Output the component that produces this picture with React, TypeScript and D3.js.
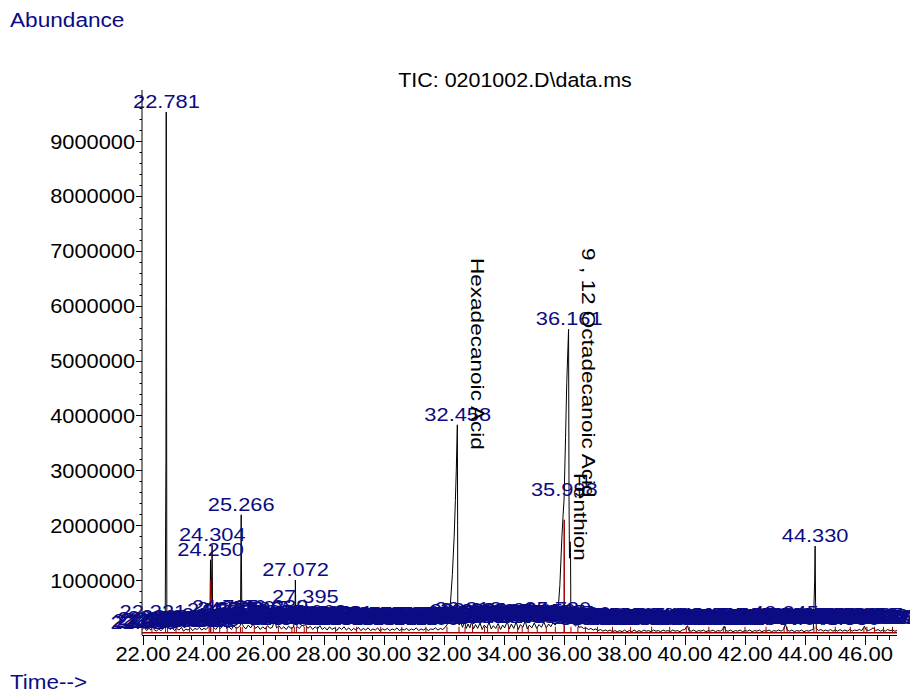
import * as d3 from 'd3'
import React, { useEffect, useRef } from 'react'

const width = 910
const height = 692
const FONT = "'Liberation Sans', Arial, Helvetica, sans-serif"
const BLUE = '#0b0b84'
const RED = '#a00000'

// retention time (min), abundance (millions) -- TIC trace
const trace: [number, number][] = [
  [21.97, 0.1], [22.05, 0.14], [22.12, 0.08], [22.2, 0.12], [22.27, 0.09], [22.33, 0.27], [22.37, 0.1], [22.45, 0.07],
  [22.52, 0.11], [22.6, 0.08], [22.68, 0.12], [22.74, 0.15], [22.765, 3.2], [22.775, 9.53], [22.785, 6.0], [22.795, 0.4],
  [22.83, 0.16], [22.9, 0.1], [22.98, 0.13], [23.05, 0.08], [23.12, 0.12], [23.2, 0.09], [23.28, 0.14], [23.35, 0.07],
  [23.43, 0.11], [23.5, 0.09], [23.58, 0.13], [23.65, 0.08], [23.73, 0.12], [23.8, 0.1], [23.88, 0.14], [23.95, 0.09],
  [24.03, 0.12], [24.1, 0.1], [24.18, 0.15], [24.23, 0.25], [24.245, 1.37], [24.26, 0.6], [24.28, 0.9], [24.3, 1.64],
  [24.315, 0.4], [24.35, 0.14], [24.42, 0.1], [24.5, 0.16], [24.58, 0.12], [24.66, 0.18], [24.73, 0.3], [24.78, 0.12],
  [24.86, 0.15], [24.94, 0.1], [25.02, 0.17], [25.1, 0.12], [25.18, 0.14], [25.24, 0.18], [25.255, 1.4], [25.265, 2.19],
  [25.275, 1.2], [25.29, 0.2], [25.35, 0.15], [25.42, 0.11], [25.5, 0.18], [25.58, 0.13], [25.66, 0.2], [25.74, 0.12],
  [25.82, 0.16], [25.9, 0.1], [25.98, 0.15], [26.06, 0.11], [26.14, 0.17], [26.22, 0.12], [26.3, 0.14], [26.38, 0.28],
  [26.44, 0.13], [26.52, 0.17], [26.6, 0.11], [26.68, 0.15], [26.76, 0.1], [26.84, 0.16], [26.92, 0.12], [27.0, 0.14],
  [27.05, 0.3], [27.065, 1.0], [27.08, 0.35], [27.12, 0.15], [27.2, 0.12], [27.28, 0.18], [27.35, 0.16], [27.385, 0.51],
  [27.41, 0.18], [27.48, 0.12], [27.56, 0.16], [27.64, 0.1], [27.72, 0.15], [27.8, 0.11], [27.88, 0.17], [27.96, 0.1],
  [28.04, 0.14], [28.12, 0.09], [28.2, 0.15], [28.28, 0.1], [28.36, 0.13], [28.44, 0.08], [28.52, 0.14], [28.6, 0.1],
  [28.68, 0.15], [28.76, 0.09], [28.84, 0.13], [28.92, 0.08], [29.0, 0.12], [29.08, 0.09], [29.16, 0.14], [29.24, 0.08],
  [29.32, 0.12], [29.4, 0.09], [29.48, 0.13], [29.56, 0.08], [29.64, 0.11], [29.72, 0.09], [29.8, 0.13], [29.88, 0.07],
  [29.96, 0.11], [30.04, 0.09], [30.12, 0.12], [30.2, 0.08], [30.28, 0.11], [30.36, 0.09], [30.44, 0.13], [30.52, 0.08],
  [30.6, 0.11], [30.68, 0.09], [30.76, 0.12], [30.84, 0.08], [30.92, 0.11], [31.0, 0.09], [31.08, 0.13], [31.16, 0.08],
  [31.24, 0.11], [31.32, 0.09], [31.4, 0.12], [31.48, 0.08], [31.56, 0.11], [31.64, 0.1], [31.72, 0.13], [31.8, 0.09],
  [31.88, 0.12], [31.96, 0.1], [32.04, 0.14], [32.12, 0.2], [32.2, 0.45], [32.28, 1.1], [32.34, 1.8], [32.38, 2.45],
  [32.41, 3.0], [32.445, 3.83], [32.455, 2.0], [32.46, 0.5], [32.5, 0.18], [32.56, 0.22], [32.62, 0.14], [32.68, 0.25],
  [32.74, 0.12], [32.8, 0.2], [32.86, 0.13], [32.92, 0.24], [32.98, 0.11], [33.05, 0.19], [33.12, 0.12], [33.2, 0.22],
  [33.27, 0.1], [33.34, 0.18], [33.42, 0.13], [33.5, 0.23], [33.57, 0.11], [33.64, 0.17], [33.72, 0.12], [33.8, 0.21],
  [33.88, 0.1], [33.95, 0.18], [34.02, 0.13], [34.1, 0.25], [34.17, 0.11], [34.24, 0.2], [34.32, 0.12], [34.4, 0.24],
  [34.47, 0.1], [34.54, 0.19], [34.62, 0.14], [34.7, 0.26], [34.77, 0.11], [34.84, 0.18], [34.92, 0.13], [35.0, 0.22],
  [35.08, 0.12], [35.16, 0.19], [35.24, 0.14], [35.32, 0.24], [35.4, 0.13], [35.48, 0.2], [35.55, 0.15], [35.62, 0.22],
  [35.7, 0.18], [35.78, 0.35], [35.85, 0.9], [35.92, 1.8], [35.96, 2.2], [35.99, 2.46], [36.04, 3.6], [36.08, 4.6],
  [36.14, 5.57], [36.155, 2.5], [36.17, 1.4], [36.19, 1.7], [36.205, 1.5], [36.215, 0.5], [36.24, 0.25], [36.3, 0.2],
  [36.38, 0.16], [36.43, 0.22], [36.48, 0.14], [36.56, 0.15], [36.64, 0.12], [36.72, 0.13], [36.8, 0.1], [36.88, 0.12],
  [36.96, 0.09], [37.04, 0.11], [37.12, 0.08], [37.2, 0.1], [37.28, 0.07], [37.36, 0.09], [37.44, 0.07], [37.52, 0.09],
  [37.6, 0.06], [37.68, 0.08], [37.76, 0.06], [37.84, 0.08], [37.92, 0.06], [38.0, 0.09], [38.08, 0.06], [38.16, 0.08],
  [38.24, 0.06], [38.32, 0.09], [38.4, 0.06], [38.48, 0.08], [38.56, 0.06], [38.64, 0.09], [38.72, 0.07], [38.8, 0.08],
  [38.88, 0.06], [38.96, 0.09], [39.04, 0.07], [39.12, 0.08], [39.2, 0.06], [39.28, 0.09], [39.36, 0.07], [39.44, 0.08],
  [39.52, 0.06], [39.6, 0.09], [39.68, 0.07], [39.76, 0.08], [39.84, 0.06], [39.92, 0.09], [40.0, 0.1], [40.09, 0.17],
  [40.14, 0.08], [40.22, 0.07], [40.3, 0.09], [40.38, 0.06], [40.46, 0.08], [40.54, 0.07], [40.62, 0.09], [40.7, 0.06],
  [40.78, 0.08], [40.86, 0.07], [40.94, 0.09], [41.02, 0.06], [41.1, 0.08], [41.18, 0.07], [41.26, 0.1], [41.31, 0.16],
  [41.36, 0.08], [41.44, 0.07], [41.52, 0.09], [41.6, 0.06], [41.68, 0.08], [41.76, 0.07], [41.84, 0.09], [41.92, 0.06],
  [42.0, 0.08], [42.08, 0.07], [42.16, 0.09], [42.24, 0.06], [42.32, 0.08], [42.4, 0.07], [42.48, 0.09], [42.56, 0.06],
  [42.64, 0.08], [42.72, 0.07], [42.8, 0.09], [42.88, 0.06], [42.96, 0.08], [43.04, 0.07], [43.12, 0.09], [43.2, 0.07],
  [43.28, 0.1], [43.345, 0.2], [43.4, 0.09], [43.48, 0.07], [43.56, 0.09], [43.64, 0.06], [43.72, 0.08], [43.8, 0.07],
  [43.88, 0.09], [43.96, 0.06], [44.04, 0.08], [44.12, 0.07], [44.2, 0.09], [44.27, 0.1], [44.315, 1.0], [44.33, 1.62],
  [44.345, 0.6], [44.37, 0.12], [44.44, 0.08], [44.52, 0.1], [44.6, 0.07], [44.68, 0.09], [44.76, 0.07], [44.84, 0.1],
  [44.92, 0.07], [45.0, 0.09], [45.08, 0.07], [45.16, 0.1], [45.24, 0.07], [45.32, 0.09], [45.4, 0.07], [45.48, 0.1],
  [45.56, 0.07], [45.64, 0.09], [45.72, 0.08], [45.8, 0.1], [45.88, 0.08], [45.97, 0.16], [46.03, 0.09], [46.1, 0.08],
  [46.18, 0.1], [46.26, 0.13], [46.34, 0.08], [46.42, 0.1], [46.5, 0.07], [46.58, 0.09], [46.66, 0.07], [46.74, 0.1],
  [46.82, 0.08], [46.9, 0.09], [46.98, 0.07], [47.05, 0.08],
]

// labelled main peaks: retention time, apex abundance (millions)
const mainPeaks: [number, number][] = [
  [22.781, 9.53], [24.25, 1.37], [24.304, 1.64], [25.266, 2.19], [27.072, 1.0], [27.395, 0.51],
  [32.458, 3.83], [35.998, 2.46], [36.161, 5.57], [44.33, 1.62],
]

// small integrated peaks along the baseline (their labels pile up)
const minorPeaks: [number, number][] = [
  [22.028, 0.08], [22.105, 0.12], [22.189, 0.1], [22.262, 0.15], [22.331, 0.29], [22.42, 0.14], [22.507, 0.1],
  [22.598, 0.17], [22.684, 0.12], [22.877, 0.15], [22.958, 0.11], [23.046, 0.19], [23.137, 0.13], [23.221, 0.16],
  [23.31, 0.12], [23.402, 0.18], [23.489, 0.14], [23.571, 0.11], [23.66, 0.17], [23.748, 0.13], [23.833, 0.19],
  [23.921, 0.12], [24.01, 0.16], [24.098, 0.14], [24.177, 0.2], [24.398, 0.22], [24.485, 0.17], [24.577, 0.31],
  [24.662, 0.18], [24.735, 0.38], [24.821, 0.21], [24.903, 0.34], [24.989, 0.19], [25.072, 0.3], [25.158, 0.22],
  [25.352, 0.28], [25.438, 0.2], [25.526, 0.33], [25.614, 0.24], [25.697, 0.36], [25.785, 0.21], [25.868, 0.29],
  [25.952, 0.18], [26.041, 0.25], [26.127, 0.19], [26.215, 0.23], [26.302, 0.17], [26.389, 0.37], [26.474, 0.2],
  [26.56, 0.26], [26.648, 0.16], [26.733, 0.22], [26.821, 0.18], [26.906, 0.24], [26.99, 0.15], [27.16, 0.21],
  [27.248, 0.17], [27.31, 0.23], [27.489, 0.24], [27.575, 0.19], [27.663, 0.28], [27.749, 0.22], [27.836, 0.26],
  [27.922, 0.18], [28.008, 0.25], [28.097, 0.2], [28.183, 0.27], [28.27, 0.17], [28.358, 0.23], [28.445, 0.19],
  [28.531, 0.26], [28.618, 0.16], [28.706, 0.22], [28.794, 0.18], [28.88, 0.25], [28.967, 0.15], [29.054, 0.21],
  [29.141, 0.19], [29.228, 0.24], [29.316, 0.16], [29.402, 0.22], [29.49, 0.18], [29.577, 0.25], [29.663, 0.17],
  [29.751, 0.21], [29.838, 0.19], [29.926, 0.23], [30.013, 0.16], [30.1, 0.22], [30.187, 0.18], [30.274, 0.25],
  [30.362, 0.17], [30.449, 0.21], [30.536, 0.19], [30.624, 0.24], [30.711, 0.16], [30.798, 0.22], [30.885, 0.18],
  [30.973, 0.25], [31.06, 0.17], [31.147, 0.21], [31.234, 0.19], [31.322, 0.23], [31.409, 0.16], [31.496, 0.22],
  [31.583, 0.18], [31.671, 0.24], [31.758, 0.17], [31.845, 0.21], [31.932, 0.19], [32.02, 0.23], [32.107, 0.18],
  [32.194, 0.25], [32.551, 0.26], [32.638, 0.3], [32.726, 0.22], [32.813, 0.33], [32.9, 0.24], [32.988, 0.31],
  [33.075, 0.2], [33.162, 0.27], [33.249, 0.22], [33.337, 0.29], [33.424, 0.19], [33.511, 0.26], [33.598, 0.23],
  [33.686, 0.3], [33.773, 0.21], [33.86, 0.27], [33.947, 0.19], [34.035, 0.25], [34.122, 0.22], [34.209, 0.28],
  [34.296, 0.2], [34.384, 0.31], [34.471, 0.23], [34.558, 0.27], [34.645, 0.21], [34.733, 0.29], [34.82, 0.24],
  [34.907, 0.26], [34.994, 0.2], [35.082, 0.28], [35.169, 0.22], [35.256, 0.3], [35.343, 0.25], [35.431, 0.27],
  [35.518, 0.21], [35.605, 0.29], [35.692, 0.24], [35.78, 0.33], [35.867, 0.26], [36.29, 0.22], [36.426, 0.24],
  [36.52, 0.21], [36.607, 0.18], [36.694, 0.23], [36.782, 0.17], [36.869, 0.2], [36.956, 0.16], [37.043, 0.22],
  [37.131, 0.18], [37.218, 0.21], [37.305, 0.15], [37.392, 0.2], [37.48, 0.17], [37.567, 0.22], [37.654, 0.16],
  [37.741, 0.19], [37.829, 0.15], [37.916, 0.21], [38.003, 0.17], [38.09, 0.2], [38.178, 0.16], [38.265, 0.22],
  [38.352, 0.18], [38.439, 0.2], [38.527, 0.15], [38.614, 0.21], [38.701, 0.17], [38.788, 0.2], [38.876, 0.16],
  [38.963, 0.22], [39.05, 0.18], [39.137, 0.21], [39.225, 0.16], [39.312, 0.2], [39.399, 0.17], [39.486, 0.22],
  [39.574, 0.15], [39.661, 0.21], [39.748, 0.18], [39.835, 0.2], [39.923, 0.16], [40.092, 0.2], [40.18, 0.17],
  [40.267, 0.22], [40.354, 0.16], [40.441, 0.2], [40.529, 0.18], [40.616, 0.21], [40.703, 0.15], [40.79, 0.2],
  [40.878, 0.17], [40.965, 0.22], [41.052, 0.16], [41.139, 0.21], [41.227, 0.18], [41.314, 0.22], [41.401, 0.17],
  [41.488, 0.2], [41.576, 0.16], [41.663, 0.21], [41.75, 0.18], [41.837, 0.22], [41.925, 0.15], [42.012, 0.2],
  [42.099, 0.17], [42.186, 0.21], [42.274, 0.16], [42.361, 0.22], [42.448, 0.18], [42.535, 0.2], [42.623, 0.17],
  [42.71, 0.21], [42.797, 0.16], [42.884, 0.22], [42.972, 0.18], [43.059, 0.2], [43.146, 0.19], [43.233, 0.23],
  [43.345, 0.26], [43.433, 0.2], [43.52, 0.18], [43.607, 0.22], [43.694, 0.17], [43.782, 0.21], [43.869, 0.18],
  [43.956, 0.22], [44.043, 0.16], [44.131, 0.2], [44.218, 0.18], [44.42, 0.21], [44.507, 0.18], [44.594, 0.23],
  [44.682, 0.17], [44.769, 0.21], [44.856, 0.19], [44.943, 0.22], [45.031, 0.17], [45.118, 0.21], [45.205, 0.18],
  [45.292, 0.22], [45.38, 0.16], [45.467, 0.21], [45.554, 0.19], [45.641, 0.22], [45.729, 0.17], [45.816, 0.21],
  [45.903, 0.18], [45.973, 0.23], [46.078, 0.19], [46.165, 0.22], [46.252, 0.17], [46.339, 0.21], [46.427, 0.18],
  [46.514, 0.2], [46.601, 0.17], [46.688, 0.21], [46.776, 0.18], [46.863, 0.2], [46.95, 0.17], [47.037, 0.19],
]

// integration event markers (red): tall ones [time, top], short ones at baseline
const redTall: [number, number][] = [[24.25, 1.0], [35.995, 2.1]]
const redShort: number[] = [
  22.3, 22.75, 22.82, 23.1, 23.55, 24.2, 24.34, 24.55, 24.8, 25.1, 25.24, 25.3, 25.7, 26.1, 26.5, 26.95, 27.03,
  27.1, 27.36, 27.43, 27.8, 28.4, 29.1, 29.9, 30.6, 31.4, 32.1, 32.5, 32.7, 32.95, 33.35, 33.45, 33.8, 34.15,
  34.45, 34.6, 34.8, 35.1, 35.4, 35.7, 36.22, 36.45, 36.7, 37.1, 37.6, 38.2, 38.9, 39.5, 40.05, 40.15, 40.8,
  41.28, 41.35, 42.0, 42.7, 43.3, 43.4, 44.29, 44.37, 45.0, 45.5, 45.95, 46.05, 46.3, 46.6, 46.9,
]

// library hits written vertically: name, time of text column, abundance where the text starts
const compounds: [string, number, number][] = [
  ['Hexadecanoic Acid', 32.9, 6.87],
  ['9 , 12 Octadecanoic Acid', 36.588, 7.05],
  ['Fenthion', 36.32, 2.95],
]

const xTicks = [22, 24, 26, 28, 30, 32, 34, 36, 38, 40, 42, 44, 46]
const yTicks = [1, 2, 3, 4, 5, 6, 7, 8, 9]

const App: React.FC = () => {
  const ref = useRef<SVGSVGElement>(null)

  useEffect(() => {
    const svg = d3.select(ref.current)
    svg.selectAll('*').remove()

    const x = d3.scaleLinear().domain([21.97, 47.05]).range([142, 897])
    const y = d3.scaleLinear().domain([0, 9.93]).range([635, 90])

    const addText = (s: string, tx: number, ty: number, size: number, sx: number, anchor: string, fill: string, rot = 0) =>
      svg
        .append('text')
        .attr('transform', `translate(${tx},${ty}) rotate(${rot}) scale(${sx},1)`)
        .attr('text-anchor', anchor)
        .attr('font-family', FONT)
        .attr('font-size', size)
        .attr('fill', fill)
        .text(s)

    // titles
    addText('Abundance', 10, 27, 19.5, 1.16, 'start', BLUE)
    addText('Time-->', 10, 689, 19.5, 1.15, 'start', BLUE)
    addText('TIC: 0201002.D\\data.ms', 515, 87, 19.5, 1.1, 'middle', '#000')

    // y axis
    svg.append('line').attr('x1', 142).attr('x2', 142).attr('y1', 90).attr('y2', 635).attr('stroke', '#000')
    svg
      .selectAll('.ymin')
      .data(d3.range(1, 50).map((i) => i * 0.2))
      .enter()
      .append('line')
      .attr('x1', 139.5)
      .attr('x2', 142)
      .attr('y1', (d) => Math.round(y(d)) + 0.5)
      .attr('y2', (d) => Math.round(y(d)) + 0.5)
      .attr('stroke', '#000')
    svg
      .selectAll('.ymaj')
      .data(yTicks)
      .enter()
      .append('line')
      .attr('x1', 136)
      .attr('x2', 142)
      .attr('y1', (d) => Math.round(y(d)) + 0.5)
      .attr('y2', (d) => Math.round(y(d)) + 0.5)
      .attr('stroke', '#000')
    yTicks.forEach((d) => addText(String(d * 1000000), 135, y(d) + 7.5, 20, 1.09, 'end', '#000'))

    // x axis
    svg.append('line').attr('x1', 142).attr('x2', 897).attr('y1', 635.5).attr('y2', 635.5).attr('stroke', '#000')
    svg
      .selectAll('.xmin')
      .data(d3.range(0, 63).map((i) => 22 + i * 0.4))
      .enter()
      .append('line')
      .attr('x1', (d) => Math.round(x(d)) + 0.5)
      .attr('x2', (d) => Math.round(x(d)) + 0.5)
      .attr('y1', 635)
      .attr('y2', 640)
      .attr('stroke', '#000')
    svg
      .selectAll('.xmaj')
      .data(xTicks)
      .enter()
      .append('line')
      .attr('x1', (d) => Math.round(x(d)) + 0.5)
      .attr('x2', (d) => Math.round(x(d)) + 0.5)
      .attr('y1', 635)
      .attr('y2', 645)
      .attr('stroke', '#000')
    xTicks.forEach((d) => addText(d.toFixed(2), x(d), 661, 20, 1.1, 'middle', '#000'))

    // integration baseline
    svg.append('line').attr('x1', 142).attr('x2', 897).attr('y1', y(0.04)).attr('y2', y(0.04)).attr('stroke', RED).attr('stroke-width', 1.5)

    // trace
    const line = d3
      .line<[number, number]>()
      .x((d) => x(d[0]))
      .y((d) => y(d[1]))
    svg.append('path').datum(trace).attr('d', line).attr('fill', 'none').attr('stroke', '#000').attr('stroke-width', 1)

    // red event marks
    svg
      .selectAll('.rshort')
      .data(redShort)
      .enter()
      .append('line')
      .attr('x1', (d) => x(d))
      .attr('x2', (d) => x(d))
      .attr('y1', y(0.04))
      .attr('y2', y(0.15))
      .attr('stroke', RED)
    svg
      .selectAll('.rtall')
      .data(redTall)
      .enter()
      .append('line')
      .attr('x1', (d) => x(d[0]))
      .attr('x2', (d) => x(d[0]))
      .attr('y1', y(0.04))
      .attr('y2', (d) => y(d[1]))
      .attr('stroke', RED)
      .attr('stroke-width', 1.5)

    // peak labels
    minorPeaks.forEach(([t, v]) => addText(t.toFixed(3), x(t), y(v) - 1.5, 18.5, 1.18, 'middle', BLUE))
    mainPeaks.forEach(([t, v]) => addText(t.toFixed(3), x(t), y(v) - 4, 18.5, 1.18, 'middle', BLUE))

    // compound names
    compounds.forEach(([name, t, v]) => addText(name, x(t), y(v), 18.5, 1.22, 'start', '#000', 90))
  }, [])

  return (
    <svg
      ref={ref}
      width={width}
      height={height}
      style={{ position: 'absolute', left: 0, top: 0, background: '#fff' }}
    />
  )
}

export default App
